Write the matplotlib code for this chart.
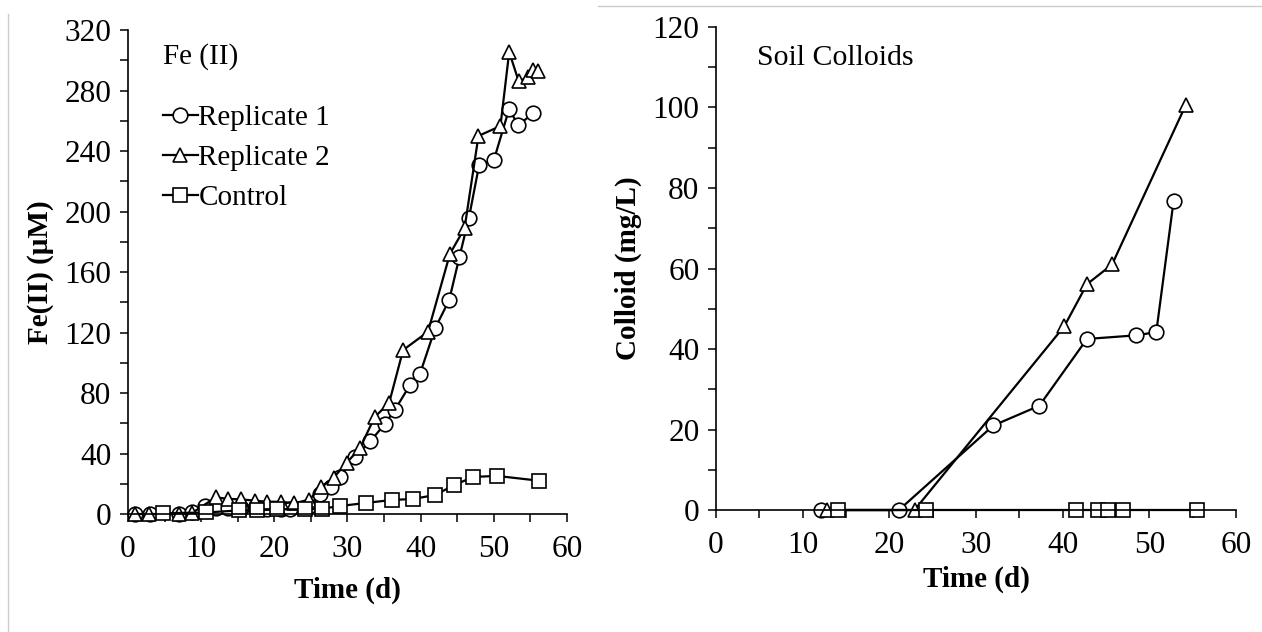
import matplotlib
matplotlib.use('Agg')
import matplotlib.pyplot as plt
from matplotlib.lines import Line2D
from matplotlib.ticker import MultipleLocator

plt.rcParams['font.family'] = ['Liberation Serif', 'DejaVu Serif']

# Fe(II) panel
fe_rep1_t = [1.0, 3.0, 7.0, 8.7, 10.5, 12.0, 13.7, 15.4, 17.4, 19.0, 20.9, 22.1, 24.8, 26.3,
             27.8, 29.0, 31.0, 33.1, 35.1, 36.5, 38.5, 39.9, 42.0, 43.9, 45.3, 46.6, 48.0,
             50.0, 52.1, 53.3, 55.4]
fe_rep1 = [0, 0, 0, 1.5, 5, 4, 4, 4, 4, 3.5, 3, 3.5, 5, 13,
           18, 24.7, 38, 48, 59.5, 69, 85, 92.6, 123, 141.5, 170, 196, 231,
           234, 268, 257, 265]

fe_rep2_t = [1.0, 2.9, 7.0, 8.7, 12.0, 13.7, 15.4, 17.4, 19.0, 20.9, 22.7, 24.8, 26.4, 28.1,
             29.9, 31.7, 33.7, 35.7, 37.6, 41.0, 44.0, 46.0, 47.9, 50.9, 52.1, 53.4, 54.7,
             55.4, 56.1]
fe_rep2 = [0, 0, 0, 0.5, 11, 10, 9.7, 8.8, 8.1, 8.1, 7.1, 9.5, 18, 24,
           34, 43.4, 64, 73.6, 108.4, 120.5, 172, 189, 250, 256.5, 305.5, 286, 289,
           293.5, 293]

fe_ctrl_t = [4.8, 10.7, 15.2, 17.7, 20.4, 24.2, 26.5, 29.0, 32.5, 36.1, 38.9, 42.0, 44.6,
             47.2, 50.4, 56.2]
fe_ctrl = [0.5, 1, 2.4, 2.4, 3.1, 3.1, 3.5, 5.3, 7.3, 9.3, 9.9, 12.6, 19.2,
           24.5, 25.2, 22]

# Soil colloid panel
col_rep1_t = [12.1, 21.1, 32.0, 37.3, 42.8, 48.5, 50.8, 52.8]
col_rep1 = [0, 0, 21.0, 25.9, 42.5, 43.4, 44.2, 76.8]

col_rep2_t = [12.8, 22.9, 40.2, 42.8, 45.7, 54.2]
col_rep2 = [0, 0, 45.7, 56.1, 61.0, 100.6]

col_ctrl_t = [14.1, 24.2, 41.5, 44.1, 45.2, 47.0, 55.5]
col_ctrl = [0, 0, 0, 0, 0, 0, 0]

labels = ['Replicate 1', 'Replicate 2', 'Control']

fig = plt.figure(figsize=(12.62, 6.32), dpi=100)
ax1 = fig.add_axes([0.1014, 0.1867, 0.3479, 0.7658])
ax2 = fig.add_axes([0.5674, 0.1930, 0.4120, 0.7643])

stil = dict(color='black', lw=1.6, mfc='white', mec='black', mew=1.2, clip_on=False)


def zeichne(ax, reihen):
    for (t, y, m, ms), lab in zip(reihen, labels):
        ax.plot(t, y, marker=m, ms=ms, label=lab, **stil)


zeichne(ax1, [(fe_rep1_t, fe_rep1, 'o', 10.5),
              (fe_rep2_t, fe_rep2, '^', 10.5),
              (fe_ctrl_t, fe_ctrl, 's', 10.5)])
zeichne(ax2, [(col_rep1_t, col_rep1, 'o', 10.5),
              (col_rep2_t, col_rep2, '^', 10.5),
              (col_ctrl_t, col_ctrl, 's', 9.5)])

for ax in (ax1, ax2):
    ax.spines['top'].set_visible(False)
    ax.spines['right'].set_visible(False)
    ax.spines['left'].set_linewidth(1.2)
    ax.spines['bottom'].set_linewidth(1.2)
    ax.set_xlim(0, 60)
    ax.xaxis.set_major_locator(MultipleLocator(10))
    ax.xaxis.set_minor_locator(MultipleLocator(5))
    ax.tick_params(which='both', direction='out', length=6, width=1.1, labelsize=22.5, pad=6)
    ax.tick_params(axis='x', pad=9)

ax1.set_xlabel('Time (d)', fontsize=21, fontweight='bold', labelpad=9)
ax2.set_xlabel('Time (d)', fontsize=21, fontweight='bold', labelpad=4)

ax1.set_ylim(0, 320)
ax1.yaxis.set_major_locator(MultipleLocator(40))
ax1.yaxis.set_minor_locator(MultipleLocator(20))
ax1.set_ylabel('Fe(II) (μM)', fontsize=21, fontweight='bold', labelpad=7.5)
ax1.text(0.08, 0.946, 'Fe (II)', transform=ax1.transAxes, fontsize=21, va='center', ha='left')
ax1.legend(loc='upper left', bbox_to_anchor=(0.053, 0.870), frameon=False, fontsize=21,
           handlelength=1.2, handletextpad=0.02, borderaxespad=0, labelspacing=0.47)

ax2.set_ylim(0, 120)
ax2.yaxis.set_major_locator(MultipleLocator(20))
ax2.yaxis.set_minor_locator(MultipleLocator(10))
ax2.set_ylabel('Colloid (mg/L)', fontsize=21, fontweight='bold', labelpad=7.5)
ax2.text(0.079, 0.935, 'Soil Colloids', transform=ax2.transAxes, fontsize=21.5,
         va='center', ha='left')

# feine graue Rahmenlinien vom Bildausschnitt
fig.add_artist(Line2D([8 / 1262, 8 / 1262], [0, 1 - 14 / 632], transform=fig.transFigure,
                      color='#cccccc', lw=1))
fig.add_artist(Line2D([598 / 1262, 1], [1 - 6 / 632, 1 - 6 / 632], transform=fig.transFigure,
                      color='#cccccc', lw=1))

fig.savefig('out.png', dpi=100)
